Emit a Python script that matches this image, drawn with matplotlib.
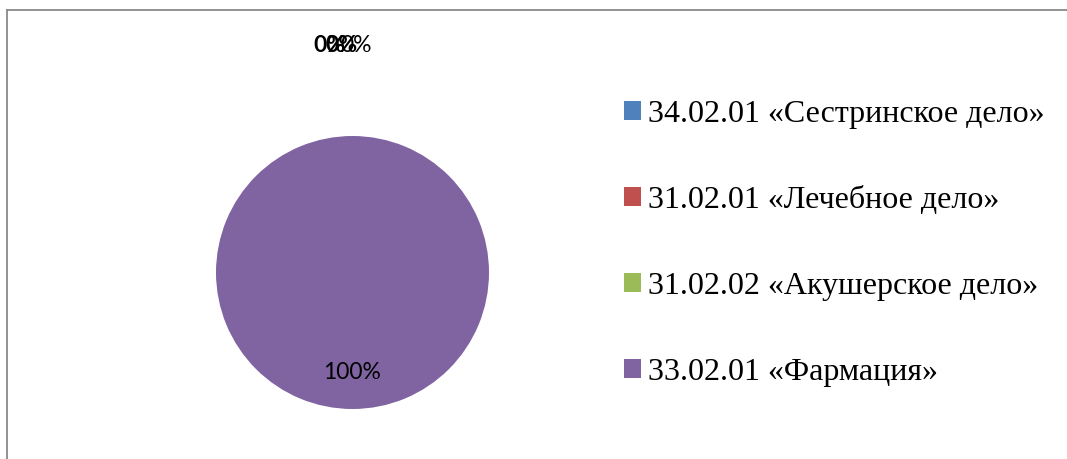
import matplotlib.pyplot as plt
from matplotlib.lines import Line2D

categories = ['34.02.01 «Сестринское дело»',
              '31.02.01 «Лечебное дело»',
              '31.02.02 «Акушерское дело»',
              '33.02.01 «Фармация»']
shares = [0, 0, 0, 100]
colors = ['#4F81BD', '#C0504D', '#9BBB59', '#8064A2']

W, H = 1067, 459
fig = plt.figure(figsize=(W / 100, H / 100), dpi=100)

# chart frame (cropped at right and bottom)
fig.add_artist(Line2D([7 / W, 1], [1 - 10 / H, 1 - 10 / H], color='#898989', lw=1.3))
fig.add_artist(Line2D([7 / W, 7 / W], [0, 1 - 10 / H], color='#898989', lw=1.3))

cx, cy, r = 352.5, H - 272.5, 136.5
ax = fig.add_axes([(cx - r) / W, (cy - r) / H, 2 * r / W, 2 * r / H])
wedges, texts, autotexts = ax.pie(shares, colors=colors, startangle=90, counterclock=False,
                                  autopct='%1.0f%%', pctdistance=0.73,
                                  textprops=dict(family='Lato', fontsize=16.5, color='black'))
ax.set_xlim(-1, 1)
ax.set_ylim(-1, 1)

# zero-share labels sit stacked above the pie
zero_x = [-0.17, -0.08, 0.03]
for t, x, bold in zip(autotexts[:3], zero_x, [True, True, False]):
    t.set_position((x, 1.66))
    t.set_fontweight('bold' if bold else 'normal')

fig.legend(wedges, categories, loc='upper left', bbox_to_anchor=(624 / W, 1 - 100 / H),
           frameon=False, prop=dict(family='Liberation Serif', size=23),
           handlelength=0.53, handleheight=0.53, handletextpad=0.22,
           labelspacing=1.78, borderpad=0, borderaxespad=0)

fig.savefig('out.png', dpi=100)
